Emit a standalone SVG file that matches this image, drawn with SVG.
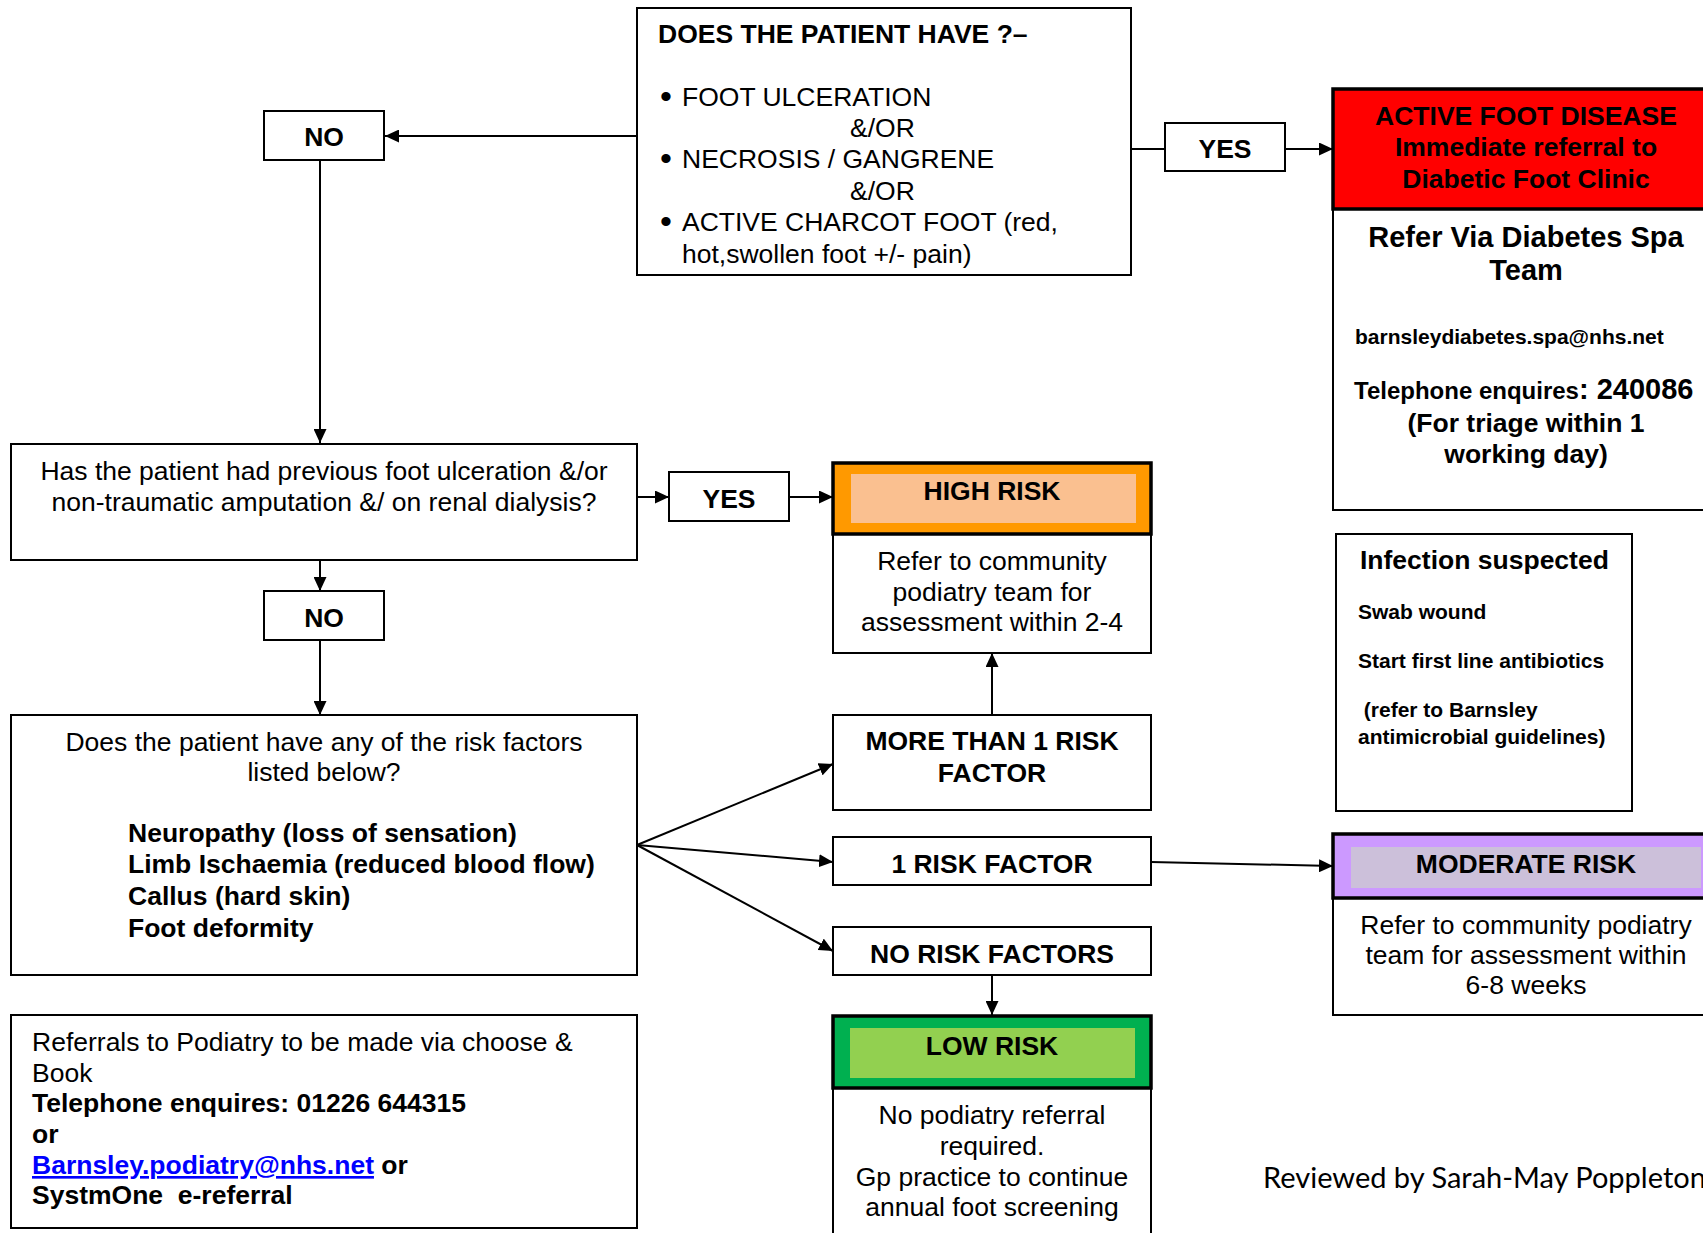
<svg xmlns="http://www.w3.org/2000/svg" width="1703" height="1233" viewBox="0 0 1703 1233">
<defs>
<style>
.box{fill:#fff;stroke:#000;stroke-width:2}
.hdr{stroke:#000;stroke-width:3.5}
.t{font-family:'Liberation Sans',Arial,sans-serif;font-size:26.5px;fill:#000}
.b{font-weight:bold}
.c{text-anchor:middle}
.s21{font-size:21px}
.bul{font-size:34px}
.ln{stroke:#000;stroke-width:2;fill:none}
.arr{marker-end:url(#ah)}
</style>
<marker id="ah" markerUnits="userSpaceOnUse" markerWidth="15" markerHeight="13" refX="14" refY="6.5" orient="auto">
<path d="M0,0 L14,6.5 L0,13 z" fill="#000"/>
</marker>
</defs>
<rect width="1703" height="1233" fill="#fff"/>

<g id="connectors">
<line class="ln arr" x1="637" y1="136" x2="385" y2="136"/>
<line class="ln arr" x1="320" y1="160" x2="320" y2="443"/>
<line class="ln arr" x1="637" y1="497" x2="669" y2="497"/>
<line class="ln arr" x1="790" y1="497" x2="833" y2="497"/>
<line class="ln arr" x1="320" y1="560" x2="320" y2="591"/>
<line class="ln arr" x1="320" y1="640" x2="320" y2="715"/>
<line class="ln" x1="1131" y1="149" x2="1165" y2="149"/>
<line class="ln arr" x1="1286" y1="149" x2="1333" y2="149"/>
<line class="ln arr" x1="637" y1="845" x2="833" y2="764"/>
<line class="ln arr" x1="637" y1="845" x2="833" y2="862"/>
<line class="ln arr" x1="637" y1="845" x2="833" y2="951"/>
<line class="ln arr" x1="992" y1="715" x2="992" y2="653"/>
<line class="ln arr" x1="1151" y1="862" x2="1333" y2="866"/>
<line class="ln arr" x1="992" y1="975" x2="992" y2="1015"/>
</g>

<g id="q-active">
<rect class="box" x="637" y="8" width="494" height="267"/>
<text class="t b" x="658" y="43">DOES THE PATIENT HAVE ?–</text>
<text class="t bul" x="660" y="108">•</text><text class="t" x="682" y="106">FOOT ULCERATION</text>
<text class="t" x="850" y="137">&amp;/OR</text>
<text class="t bul" x="660" y="170">•</text><text class="t" x="682" y="168">NECROSIS / GANGRENE</text>
<text class="t" x="850" y="200">&amp;/OR</text>
<text class="t bul" x="660" y="233">•</text><text class="t" x="682" y="231">ACTIVE CHARCOT FOOT (red,</text>
<text class="t" x="682" y="263">hot,swollen foot +/- pain)</text>
</g>

<g id="no-1">
<rect class="box" x="264" y="111" width="120" height="49"/>
<text class="t b c" x="324" y="146">NO</text>
</g>

<g id="yes-1">
<rect class="box" x="1165" y="123" width="120" height="48"/>
<text class="t b c" x="1225" y="158">YES</text>
</g>

<g id="active-foot-disease">
<rect class="box" x="1333" y="209" width="380" height="301"/>
<rect class="hdr" x="1333" y="89" width="380" height="120" fill="#ff0000"/>
<text class="t b c" x="1526" y="125">ACTIVE FOOT DISEASE</text>
<text class="t b c" x="1526" y="156">Immediate referral to</text>
<text class="t b c" x="1526" y="188">Diabetic Foot Clinic</text>
<text class="t b c" x="1526" y="247" style="font-size:29px">Refer Via Diabetes Spa</text>
<text class="t b c" x="1526" y="280" style="font-size:29px">Team</text>
<text class="t b s21" x="1355" y="344">barnsleydiabetes.spa@nhs.net</text>
<text class="t b" x="1354" y="399"><tspan style="font-size:24px">Telephone enquires</tspan><tspan style="font-size:29px">: 240086</tspan></text>
<text class="t b c" x="1526" y="432">(For triage within 1</text>
<text class="t b c" x="1526" y="463">working day)</text>
</g>

<g id="infection">
<rect class="box" x="1336" y="534" width="296" height="277"/>
<text class="t b" x="1360" y="569">Infection suspected</text>
<text class="t b s21" x="1358" y="619">Swab wound</text>
<text class="t b s21" x="1358" y="668">Start first line antibiotics</text>
<text class="t b s21" x="1358" y="717" xml:space="preserve"> (refer to Barnsley</text>
<text class="t b s21" x="1358" y="744">antimicrobial guidelines)</text>
</g>

<g id="q-previous">
<rect class="box" x="11" y="444" width="626" height="116"/>
<text class="t c" x="324" y="480">Has the patient had previous foot ulceration &amp;/or</text>
<text class="t c" x="324" y="511">non-traumatic amputation &amp;/ on renal dialysis?</text>
</g>

<g id="yes-2">
<rect class="box" x="669" y="472" width="120" height="49"/>
<text class="t b c" x="729" y="508">YES</text>
</g>

<g id="high-risk">
<rect class="box" x="833" y="534" width="318" height="119"/>
<rect class="hdr" x="833" y="463" width="318" height="71" fill="#ff9900"/>
<rect x="851" y="474" width="285" height="49" fill="#fac090"/>
<text class="t b c" x="992" y="500">HIGH RISK</text>
<text class="t c" x="992" y="570">Refer to community</text>
<text class="t c" x="992" y="601">podiatry team for</text>
<text class="t c" x="992" y="631">assessment within 2-4</text>
</g>

<g id="no-2">
<rect class="box" x="264" y="591" width="120" height="49"/>
<text class="t b c" x="324" y="627">NO</text>
</g>

<g id="q-risk-factors">
<rect class="box" x="11" y="715" width="626" height="260"/>
<text class="t c" x="324" y="751">Does the patient have any of the risk factors</text>
<text class="t c" x="324" y="781">listed below?</text>
<text class="t b" x="128" y="842">Neuropathy (loss of sensation)</text>
<text class="t b" x="128" y="873">Limb Ischaemia (reduced blood flow)</text>
<text class="t b" x="128" y="905">Callus (hard skin)</text>
<text class="t b" x="128" y="937">Foot deformity</text>
</g>

<g id="more-than-1">
<rect class="box" x="833" y="715" width="318" height="95"/>
<text class="t b c" x="992" y="750">MORE THAN 1 RISK</text>
<text class="t b c" x="992" y="782">FACTOR</text>
</g>

<g id="one-risk">
<rect class="box" x="833" y="837" width="318" height="48"/>
<text class="t b c" x="992" y="873">1 RISK FACTOR</text>
</g>

<g id="no-risk">
<rect class="box" x="833" y="927" width="318" height="48"/>
<text class="t b c" x="992" y="963">NO RISK FACTORS</text>
</g>

<g id="moderate-risk">
<rect class="box" x="1333" y="898" width="380" height="117"/>
<rect class="hdr" x="1333" y="834" width="380" height="64" fill="#cc99ff"/>
<rect x="1351" y="847" width="350" height="41" fill="#ccc0da"/>
<text class="t b c" x="1526" y="873">MODERATE RISK</text>
<text class="t c" x="1526" y="934">Refer to community podiatry</text>
<text class="t c" x="1526" y="964">team for assessment within</text>
<text class="t c" x="1526" y="994">6-8 weeks</text>
</g>

<g id="low-risk">
<rect class="box" x="833" y="1088" width="318" height="160"/>
<rect class="hdr" x="833" y="1016" width="318" height="72" fill="#00b050"/>
<rect x="850" y="1028" width="285" height="50" fill="#92d050"/>
<text class="t b c" x="992" y="1055">LOW RISK</text>
<text class="t c" x="992" y="1124">No podiatry referral</text>
<text class="t c" x="992" y="1155">required.</text>
<text class="t c" x="992" y="1186">Gp practice to continue</text>
<text class="t c" x="992" y="1216">annual foot screening</text>
</g>

<g id="referrals">
<rect class="box" x="11" y="1015" width="626" height="213"/>
<text class="t" x="32" y="1051">Referrals to Podiatry to be made via choose &amp;</text>
<text class="t" x="32" y="1082">Book</text>
<text class="t b" x="32" y="1112">Telephone enquires: 01226 644315</text>
<text class="t b" x="32" y="1143">or</text>
<text class="t b" x="32" y="1174"><tspan fill="#0000ff" text-decoration="underline">Barnsley.podiatry@nhs.net</tspan> or</text>
<text class="t b" x="32" y="1204" xml:space="preserve">SystmOne  e-referral</text>
</g>

<g id="reviewed">
<text x="1263" y="1188" style="font-family:Lato,'Open Sans',sans-serif;font-size:29px;fill:#000">Reviewed by Sarah-May Poppleton</text>
</g>
</svg>
